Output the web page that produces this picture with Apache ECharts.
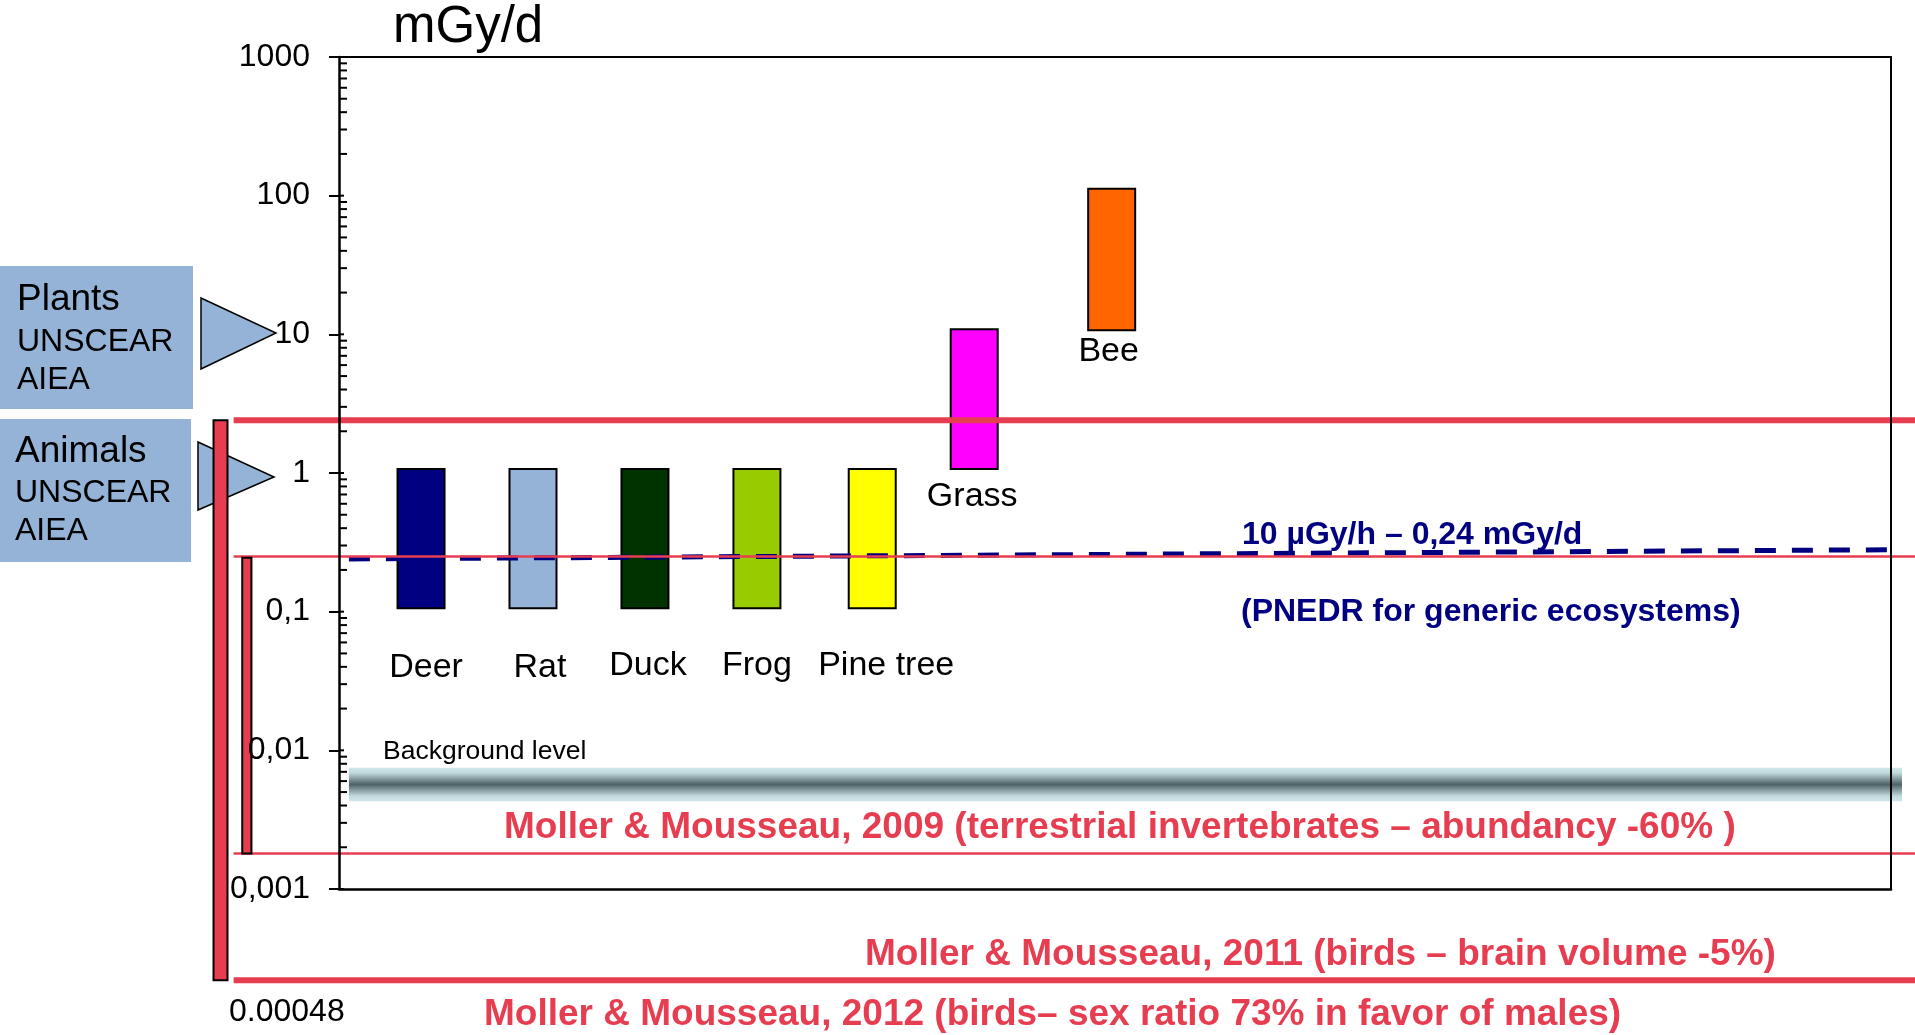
<!DOCTYPE html>
<html>
<head>
<meta charset="utf-8">
<title>mGy/d</title>
<script src="https://cdn.jsdelivr.net/npm/echarts@6/dist/echarts.min.js"></script>
<style>
html, body { margin: 0; padding: 0; background: #fff; }
#chart { width: 1915px; height: 1035px; }
</style>
</head>
<body>
<div id="chart"></div>
<script>
// dose-rate ranges per organism (mGy/d)
const categories = ['Deer', 'Rat', 'Duck', 'Frog', 'Pine tree', 'Grass', 'Bee']
const slotPos = [0.74, 1.75, 2.76, 3.77, 4.81, 5.73, 6.97]
const lowValues = [0.106, 0.106, 0.106, 0.106, 0.106, 1.07, 10.7]
const highValues = [1.07, 1.07, 1.07, 1.07, 1.07, 10.9, 112]
const yTickValues = [0.001, 0.01, 0.1, 1, 10, 100, 1000]
const yTickLabels = ['0,001', '0,01', '0,1', '1', '10', '100', '1000']

// reference levels (mGy/d)
const redLevels = [2.4, 0.25, 0.0018, 0.00022]
const redBars = [[2.4, 0.00022], [0.245, 0.0018]]
const pnedrLevels = [0.24, 0.28]
const backgroundBand = [0.0043, 0.0075]

const FONT = 'Liberation Sans'
const RED = '#E63E50'
const NAVY = '#000080'
const barColors = ['#000080', '#95B3D7', '#003300', '#99CC00', '#FFFF00', '#FF00FF', '#FF6600']
// label offsets from bar bottom centre, px
const labelNudge = {
    Deer: [5, 59],
    Rat: [7, 59],
    Duck: [3, 57],
    Frog: [0, 57],
    'Pine tree': [14, 57],
    Grass: [-2, 28],
    Bee: [-3, 21]
}
// x extents on the full-width overlay grid (fraction of width)
const redStart = 0.122
const redWidths = [6, 2.5, 2.5, 6]
const redBarX = [[0.1115, 0.1188], [0.1265, 0.1313]]
const bandX = [0.1822, 0.9932]

const chart = echarts.init(document.getElementById('chart'))

function renderBar (params, api) {
    const i = api.value(3)
    const top = api.coord([api.value(0), api.value(2)])
    const bottom = api.coord([api.value(0), api.value(1)])
    const w = 47
    const nudge = labelNudge[categories[i]]
    return {
        type: 'group',
        children: [{
            type: 'rect',
            shape: { x: top[0] - w / 2, y: top[1], width: w, height: bottom[1] - top[1] },
            style: { fill: barColors[i], stroke: '#000', lineWidth: 2 }
        }, {
            type: 'text',
            x: top[0] + nudge[0],
            y: bottom[1] + nudge[1],
            style: {
                text: categories[i],
                fill: '#000',
                fontSize: 34,
                fontFamily: FONT,
                align: 'center',
                verticalAlign: 'middle'
            }
        }]
    }
}

// inner ticks: short major part plus 2..9 minor ticks per decade
function renderInnerTicks (params, api) {
    const base = api.value(1)
    const children = []
    for (let m = 1; m <= 9; m++) {
        const v = base * m
        if (v > 1000.0001) break
        const p = api.coord([0, v])
        children.push({
            type: 'line',
            shape: { x1: p[0], y1: p[1], x2: p[0] + (m === 1 ? 5 : 8), y2: p[1] },
            style: { stroke: '#000', lineWidth: 2 }
        })
    }
    return { type: 'group', children: children }
}

function renderRedLine (params, api) {
    const v = api.value(1)
    const a = api.coord([redStart, v])
    const b = api.coord([1, v])
    return {
        type: 'line',
        shape: { x1: a[0], y1: a[1], x2: b[0], y2: b[1] },
        style: { stroke: RED, lineWidth: redWidths[api.value(2)] }
    }
}

function renderRedBar (params, api) {
    const i = api.value(3)
    const a = api.coord([redBarX[i][0], api.value(1)])
    const b = api.coord([redBarX[i][1], api.value(2)])
    return {
        type: 'rect',
        shape: { x: a[0], y: a[1], width: b[0] - a[0], height: b[1] - a[1] },
        style: { fill: RED, stroke: '#000', lineWidth: 2 }
    }
}

function renderBand (params, api) {
    const a = api.coord([bandX[0], api.value(2)])
    const b = api.coord([bandX[1], api.value(1)])
    return {
        type: 'rect',
        shape: { x: a[0], y: a[1], width: b[0] - a[0], height: b[1] - a[1] },
        style: {
            fill: new echarts.graphic.LinearGradient(0, 0, 0, 1, [
                { offset: 0, color: '#CFE7EA' },
                { offset: 0.15, color: '#C3DADD' },
                { offset: 0.5, color: '#4E6266' },
                { offset: 0.85, color: '#C3DADD' },
                { offset: 1, color: '#CFE7EA' }
            ])
        }
    }
}

function txt (text, x, y, size, opts) {
    return {
        type: 'text',
        x: x,
        y: y,
        z: 20,
        style: Object.assign({
            text: text,
            fill: '#000',
            fontSize: size,
            fontFamily: FONT,
            align: 'left',
            verticalAlign: 'middle'
        }, (opts && opts.style) || {})
    }
}

const blue = '#95B3D7'
const navyBold = { style: { fill: NAVY, fontWeight: 'bold' } }
const redBold = { style: { fill: RED, fontWeight: 'bold' } }

const option = {
    animation: false,
    grid: [{
        left: 339,
        right: 24,
        top: 57,
        bottom: 146,
        show: false
    }, {
        left: 0,
        right: 0,
        top: 57,
        height: 7 * 138.67,
        show: false
    }],
    xAxis: [{
        gridIndex: 0,
        type: 'value',
        min: 0,
        max: 14,
        position: 'bottom',
        z: 10,
        axisLine: { show: true, onZero: false, lineStyle: { color: '#000', width: 2.5 } },
        axisTick: { show: false },
        axisLabel: { show: false },
        splitLine: { show: false }
    }, {
        gridIndex: 0,
        type: 'value',
        min: 0,
        max: 14,
        position: 'top',
        z: 10,
        axisLine: { show: true, onZero: false, lineStyle: { color: '#000', width: 2 } },
        axisTick: { show: false },
        axisLabel: { show: false },
        splitLine: { show: false }
    }, {
        gridIndex: 1,
        type: 'value',
        min: 0,
        max: 1,
        show: false
    }],
    yAxis: [{
        gridIndex: 0,
        type: 'log',
        logBase: 10,
        min: 0.001,
        max: 1000,
        splitNumber: 6,
        position: 'left',
        z: 10,
        axisLine: { show: true, onZero: false, lineStyle: { color: '#000', width: 2.5 } },
        axisTick: { show: true, length: 10, lineStyle: { color: '#000', width: 2 } },
        axisLabel: {
            color: '#000',
            fontSize: 32,
            fontFamily: FONT,
            margin: 29,
            formatter: function (val) {
                return yTickLabels[Math.round(Math.log10(val)) + 3]
            }
        },
        splitLine: { show: false }
    }, {
        gridIndex: 0,
        type: 'log',
        logBase: 10,
        min: 0.001,
        max: 1000,
        position: 'right',
        z: 10,
        axisLine: { show: true, onZero: false, lineStyle: { color: '#000', width: 2 } },
        axisTick: { show: false },
        axisLabel: { show: false },
        splitLine: { show: false }
    }, {
        gridIndex: 1,
        type: 'log',
        logBase: 10,
        min: 0.0001,
        max: 1000,
        show: false
    }],
    series: [{
        type: 'custom',
        name: 'band',
        xAxisIndex: 2,
        yAxisIndex: 2,
        z: 1,
        silent: true,
        renderItem: renderBand,
        data: [[0, backgroundBand[0], backgroundBand[1]]]
    }, {
        type: 'custom',
        name: 'ranges',
        xAxisIndex: 0,
        yAxisIndex: 0,
        z: 2,
        clip: false,
        renderItem: renderBar,
        data: categories.map((c, i) => [slotPos[i], lowValues[i], highValues[i], i])
    }, {
        type: 'custom',
        name: 'innerTicks',
        xAxisIndex: 0,
        yAxisIndex: 0,
        z: 11,
        silent: true,
        renderItem: renderInnerTicks,
        data: yTickValues.map(v => [0, v])
    }, {
        type: 'line',
        name: 'PNEDR',
        xAxisIndex: 2,
        yAxisIndex: 2,
        z: 4,
        silent: true,
        symbol: 'none',
        lineStyle: { color: NAVY, width: 5, type: [21, 16] },
        data: [[bandX[0], pnedrLevels[0]], [bandX[1], pnedrLevels[1]]]
    }, {
        type: 'custom',
        name: 'redLines',
        xAxisIndex: 2,
        yAxisIndex: 2,
        z: 5,
        silent: true,
        renderItem: renderRedLine,
        data: redLevels.map((v, i) => [0, v, i])
    }, {
        type: 'custom',
        name: 'redBars',
        xAxisIndex: 2,
        yAxisIndex: 2,
        z: 6,
        silent: true,
        renderItem: renderRedBar,
        data: redBars.map((b, i) => [0, b[0], b[1], i])
    }],
    graphic: [
        { type: 'rect', z: 0, shape: { x: 0, y: 266, width: 193, height: 143 }, style: { fill: blue } },
        { type: 'rect', z: 0, shape: { x: 0, y: 419, width: 191, height: 143 }, style: { fill: blue } },
        { type: 'polygon', z: 0, shape: { points: [[201, 298], [201, 369], [276, 333]] }, style: { fill: blue, stroke: '#000', lineWidth: 1.5 } },
        { type: 'polygon', z: 0, shape: { points: [[198, 442], [198, 510], [274, 477]] }, style: { fill: blue, stroke: '#000', lineWidth: 1.5 } },
        txt('Plants', 17, 300, 37),
        txt('UNSCEAR', 17, 342, 32),
        txt('AIEA', 17, 380, 32),
        txt('Animals', 15, 452, 37),
        txt('UNSCEAR', 15, 493, 32),
        txt('AIEA', 15, 531, 32),
        txt('mGy/d', 393, 28, 51),
        txt('0.00048', 229, 1012, 32),
        txt('Background level', 383, 752, 26.5),
        txt('10 µGy/h – 0,24 mGy/d', 1242, 535, 32, navyBold),
        txt('(PNEDR for generic ecosystems)', 1241, 612, 32, navyBold),
        txt('Moller & Mousseau, 2009 (terrestrial invertebrates – abundancy -60% )', 504, 828, 37, redBold),
        txt('Moller & Mousseau, 2011 (birds – brain volume -5%)', 865, 955, 37, redBold),
        txt('Moller & Mousseau, 2012 (birds– sex ratio 73% in favor of males)', 484, 1015, 37, redBold)
    ]
}

chart.setOption(option)
</script>
</body>
</html>
